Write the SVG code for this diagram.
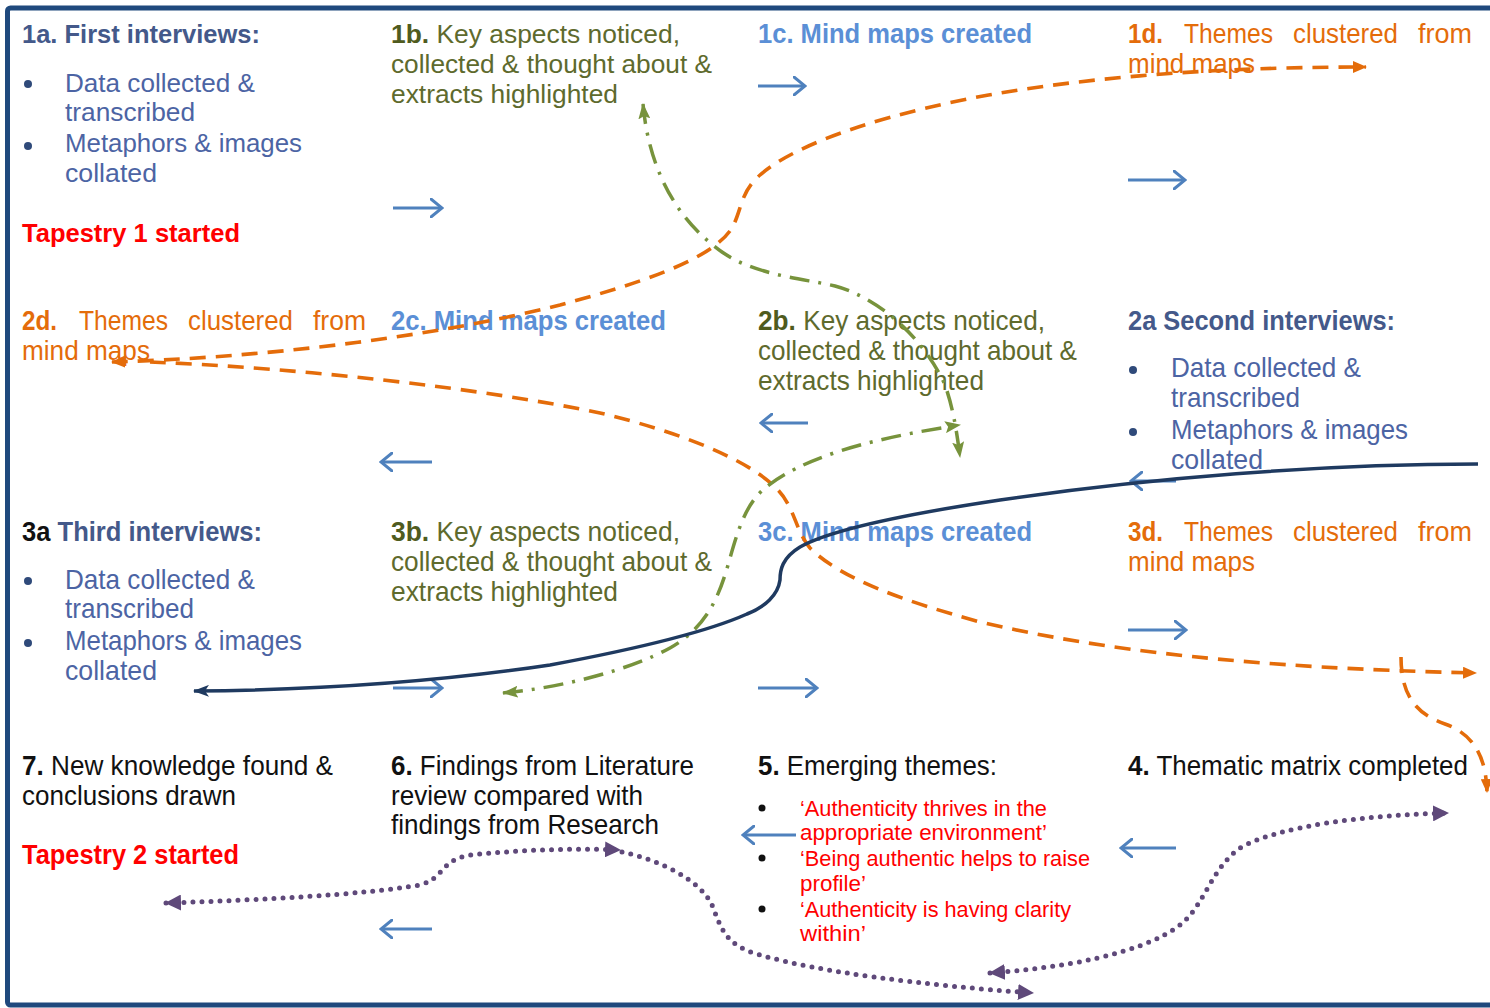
<svg xmlns="http://www.w3.org/2000/svg" width="1490" height="1008" viewBox="0 0 1490 1008">
  <defs>
    <style>
      text { font-family: "Liberation Sans", Arial, sans-serif; font-size: 26px; }
      .n { font-size: 28px; }
      .b { font-weight: bold; }
      .slate { fill: #44598A; }
      .body { fill: #4C64A4; }
      .olive { fill: #5E6A2D; }
      .oliveb { fill: #4F5B1E; font-weight: bold; }
      .sky { fill: #5B8FD6; font-weight: bold; }
      .orange { fill: #E46C0A; }
      .red { fill: #FF0000; }
      .blk { fill: #111111; }
      .quote { font-size: 22px; fill: #FF0000; }
      .dot { fill: #2F4A7A; }
      .dotk { fill: #111111; }
      .step { stroke: #4F81BD; stroke-width: 3; fill: none; marker-end: url(#chev); }
      .orng { stroke: #E46C0A; stroke-width: 3.6; fill: none; stroke-dasharray: 16 10; }
      .grn { stroke: #77933C; stroke-width: 3.5; fill: none; stroke-dasharray: 20 9 3 9; }
      .navy { stroke: #1F3A60; stroke-width: 3.5; fill: none; }
      .purp { stroke: #5F497A; stroke-width: 5; fill: none; stroke-dasharray: 0 9; stroke-linecap: round; }
    </style>
    <marker id="chev" viewBox="0 0 14 20" refX="12" refY="10" markerWidth="14" markerHeight="20" markerUnits="userSpaceOnUse" orient="auto">
      <path d="M1,1 L12,10 L1,19" fill="none" stroke="#4F81BD" stroke-width="3" stroke-linecap="round"/>
    </marker>
    <marker id="arrO" viewBox="0 0 14 12" refX="13" refY="6" markerWidth="14" markerHeight="12" markerUnits="userSpaceOnUse" orient="auto-start-reverse">
      <path d="M0,0 L14,6 L0,12 z" fill="#E46C0A"/>
    </marker>
    <marker id="arrG" viewBox="0 0 16 12" refX="15" refY="6" markerWidth="16" markerHeight="12" markerUnits="userSpaceOnUse" orient="auto-start-reverse">
      <path d="M0,0 L16,6 L0,12 L3,6 z" fill="#77933C"/>
    </marker>
    <marker id="arrN" viewBox="0 0 16 12" refX="15" refY="6" markerWidth="16" markerHeight="12" markerUnits="userSpaceOnUse" orient="auto-start-reverse">
      <path d="M0,0 L16,6 L0,12 L4,6 z" fill="#1F3A60"/>
    </marker>
    <marker id="arrP" viewBox="0 0 16 16" refX="15" refY="8" markerWidth="16" markerHeight="16" markerUnits="userSpaceOnUse" orient="auto-start-reverse">
      <path d="M0,0 L16,8 L0,16 z" fill="#5F497A"/>
    </marker>
  </defs>

  <rect x="0" y="0" width="1490" height="1008" fill="#FFFFFF"/>
  <!-- outer frame, open on the right -->
  <rect id="frame" x="7.5" y="8" width="1500" height="997" rx="3" fill="none" stroke="#1F497D" stroke-width="5"/>

  <!-- row 1 -->
  <g id="n1a">
    <text x="22" y="43" class="b slate" textLength="238" lengthAdjust="spacingAndGlyphs">1a. First interviews:</text>
    <circle cx="28" cy="84" r="4" class="dot"/>
    <circle cx="28" cy="146" r="4" class="dot"/>
    <text x="65" y="92" class="body" textLength="190" lengthAdjust="spacingAndGlyphs">Data collected &amp;</text>
    <text x="65" y="121" class="body" textLength="130" lengthAdjust="spacingAndGlyphs">transcribed</text>
    <text x="65" y="152" class="body" textLength="237" lengthAdjust="spacingAndGlyphs">Metaphors &amp; images</text>
    <text x="65" y="182" class="body" textLength="92" lengthAdjust="spacingAndGlyphs">collated</text>
    <text x="22" y="242" class="b red" textLength="218" lengthAdjust="spacingAndGlyphs">Tapestry 1 started</text>
  </g>
  <g id="n1b">
    <text x="391" y="43" class="olive" textLength="289" lengthAdjust="spacingAndGlyphs"><tspan class="oliveb">1b.</tspan> Key aspects noticed,</text>
    <text x="391" y="73" class="olive" textLength="321" lengthAdjust="spacingAndGlyphs">collected &amp; thought about &amp;</text>
    <text x="391" y="103" class="olive" textLength="227" lengthAdjust="spacingAndGlyphs">extracts highlighted</text>
  </g>
  <g id="n1c">
    <text x="758" y="43" class="n sky" textLength="274" lengthAdjust="spacingAndGlyphs">1c. Mind maps created</text>
  </g>
  <g id="n1d">
    <text x="1128" y="43" class="n b orange" textLength="35" lengthAdjust="spacingAndGlyphs">1d.</text>
    <text x="1184" y="43" class="n orange" textLength="89" lengthAdjust="spacingAndGlyphs">Themes</text>
    <text x="1293" y="43" class="n orange" textLength="105" lengthAdjust="spacingAndGlyphs">clustered</text>
    <text x="1418" y="43" class="n orange" textLength="54" lengthAdjust="spacingAndGlyphs">from</text>
    <text x="1128" y="73" class="n orange" textLength="127" lengthAdjust="spacingAndGlyphs">mind maps</text>
  </g>

  <!-- row 2 -->
  <g id="n2d">
    <text x="22" y="330" class="n b orange" textLength="35" lengthAdjust="spacingAndGlyphs">2d.</text>
    <text x="79" y="330" class="n orange" textLength="89" lengthAdjust="spacingAndGlyphs">Themes</text>
    <text x="188" y="330" class="n orange" textLength="105" lengthAdjust="spacingAndGlyphs">clustered</text>
    <text x="313" y="330" class="n orange" textLength="53" lengthAdjust="spacingAndGlyphs">from</text>
    <text x="22" y="360" class="n orange" textLength="128" lengthAdjust="spacingAndGlyphs">mind maps</text>
  </g>
  <g id="n2c">
    <text x="391" y="330" class="n sky" textLength="275" lengthAdjust="spacingAndGlyphs">2c. Mind maps created</text>
  </g>
  <g id="n2b">
    <text x="758" y="330" class="n olive" textLength="287" lengthAdjust="spacingAndGlyphs"><tspan class="oliveb">2b.</tspan> Key aspects noticed,</text>
    <text x="758" y="360" class="n olive" textLength="319" lengthAdjust="spacingAndGlyphs">collected &amp; thought about &amp;</text>
    <text x="758" y="390" class="n olive" textLength="226" lengthAdjust="spacingAndGlyphs">extracts highlighted</text>
  </g>
  <g id="n2a">
    <text x="1128" y="330" class="n b slate" textLength="267" lengthAdjust="spacingAndGlyphs">2a Second interviews:</text>
    <circle cx="1133" cy="370" r="4" class="dot"/>
    <circle cx="1133" cy="432" r="4" class="dot"/>
    <text x="1171" y="377" class="n body" textLength="190" lengthAdjust="spacingAndGlyphs">Data collected &amp;</text>
    <text x="1171" y="407" class="n body" textLength="129" lengthAdjust="spacingAndGlyphs">transcribed</text>
    <text x="1171" y="439" class="n body" textLength="237" lengthAdjust="spacingAndGlyphs">Metaphors &amp; images</text>
    <text x="1171" y="469" class="n body" textLength="92" lengthAdjust="spacingAndGlyphs">collated</text>
  </g>

  <!-- row 3 -->
  <g id="n3a">
    <text x="22" y="541" class="n b slate" textLength="240" lengthAdjust="spacingAndGlyphs"><tspan class="blk">3a</tspan> Third interviews:</text>
    <circle cx="28" cy="581" r="4" class="dot"/>
    <circle cx="28" cy="643" r="4" class="dot"/>
    <text x="65" y="589" class="n body" textLength="190" lengthAdjust="spacingAndGlyphs">Data collected &amp;</text>
    <text x="65" y="618" class="n body" textLength="129" lengthAdjust="spacingAndGlyphs">transcribed</text>
    <text x="65" y="650" class="n body" textLength="237" lengthAdjust="spacingAndGlyphs">Metaphors &amp; images</text>
    <text x="65" y="680" class="n body" textLength="92" lengthAdjust="spacingAndGlyphs">collated</text>
  </g>
  <g id="n3b">
    <text x="391" y="541" class="n olive" textLength="289" lengthAdjust="spacingAndGlyphs"><tspan class="oliveb">3b.</tspan> Key aspects noticed,</text>
    <text x="391" y="571" class="n olive" textLength="321" lengthAdjust="spacingAndGlyphs">collected &amp; thought about &amp;</text>
    <text x="391" y="601" class="n olive" textLength="227" lengthAdjust="spacingAndGlyphs">extracts highlighted</text>
  </g>
  <g id="n3c">
    <text x="758" y="541" class="n sky" textLength="274" lengthAdjust="spacingAndGlyphs">3c. Mind maps created</text>
  </g>
  <g id="n3d">
    <text x="1128" y="541" class="n b orange" textLength="35" lengthAdjust="spacingAndGlyphs">3d.</text>
    <text x="1184" y="541" class="n orange" textLength="89" lengthAdjust="spacingAndGlyphs">Themes</text>
    <text x="1293" y="541" class="n orange" textLength="105" lengthAdjust="spacingAndGlyphs">clustered</text>
    <text x="1418" y="541" class="n orange" textLength="54" lengthAdjust="spacingAndGlyphs">from</text>
    <text x="1128" y="571" class="n orange" textLength="127" lengthAdjust="spacingAndGlyphs">mind maps</text>
  </g>

  <!-- row 4 -->
  <g id="n7">
    <text x="22" y="775" class="n blk" textLength="311" lengthAdjust="spacingAndGlyphs"><tspan class="b">7.</tspan> New knowledge found &amp;</text>
    <text x="22" y="805" class="n blk" textLength="214" lengthAdjust="spacingAndGlyphs">conclusions drawn</text>
    <text x="22" y="864" class="n b red" textLength="217" lengthAdjust="spacingAndGlyphs">Tapestry 2 started</text>
  </g>
  <g id="n6">
    <text x="391" y="775" class="n blk" textLength="303" lengthAdjust="spacingAndGlyphs"><tspan class="b">6.</tspan> Findings from Literature</text>
    <text x="391" y="805" class="n blk" textLength="252" lengthAdjust="spacingAndGlyphs">review compared with</text>
    <text x="391" y="834" class="n blk" textLength="268" lengthAdjust="spacingAndGlyphs">findings from Research</text>
  </g>
  <g id="n5">
    <text x="758" y="775" class="n blk" textLength="239" lengthAdjust="spacingAndGlyphs"><tspan class="b">5.</tspan> Emerging themes:</text>
    <circle cx="762" cy="808" r="3.5" class="dotk"/>
    <circle cx="762" cy="858" r="3.5" class="dotk"/>
    <circle cx="762" cy="909" r="3.5" class="dotk"/>
    <text x="800" y="816" class="quote" textLength="247" lengthAdjust="spacingAndGlyphs">‘Authenticity thrives in the</text>
    <text x="800" y="840" class="quote" textLength="247" lengthAdjust="spacingAndGlyphs">appropriate  environment’</text>
    <text x="800" y="866" class="quote" textLength="290" lengthAdjust="spacingAndGlyphs">‘Being authentic helps to raise</text>
    <text x="800" y="891" class="quote" textLength="66" lengthAdjust="spacingAndGlyphs">profile’</text>
    <text x="800" y="917" class="quote" textLength="271" lengthAdjust="spacingAndGlyphs">‘Authenticity is having clarity</text>
    <text x="800" y="941" class="quote" textLength="66" lengthAdjust="spacingAndGlyphs">within’</text>
  </g>
  <g id="n4">
    <text x="1128" y="775" class="n blk" textLength="340" lengthAdjust="spacingAndGlyphs"><tspan class="b">4.</tspan> Thematic matrix completed</text>
  </g>

  <g id="connectors">
    <!-- short step arrows between cells -->
    <path class="step" d="M393,208 H442"/>
    <path class="step" d="M758,86 H805"/>
    <path class="step" d="M1128,180 H1185"/>
    <path class="step" d="M432,462 H381"/>
    <path class="step" d="M808,423 H761"/>
    <path class="step" d="M1176,481 H1131"/>
    <path class="step" d="M393,688 H442"/>
    <path class="step" d="M758,688 H817"/>
    <path class="step" d="M1128,630 H1186"/>
    <path class="step" d="M1176,848 H1121"/>
    <path class="step" d="M796,835 H743"/>
    <path class="step" d="M432,929 H381"/>

    <!-- orange dashed theme paths -->
    <path class="orng" marker-start="url(#arrO)" marker-end="url(#arrO)" d="M112,362 C250,358 420,340 560,305 C660,278 715,255 732,228 C742,210 740,192 760,175 C800,140 900,110 1000,93 C1120,73 1250,67 1366,67"/>
    <path class="orng" marker-end="url(#arrO)" d="M150,362 C300,368 480,388 600,413 C680,432 750,460 778,490 C795,508 795,530 810,548 C840,578 900,600 980,622 C1100,650 1250,668 1476,673"/>
    <path class="orng" marker-end="url(#arrO)" d="M1401,657 C1401,700 1420,715 1445,724 C1470,733 1486,752 1487,792"/>

    <!-- green dash-dot paths -->
    <path class="grn" marker-start="url(#arrG)" marker-end="url(#arrG)" d="M643,104 C648,160 670,215 722,252 C755,275 800,278 835,286 C880,298 925,340 945,385 C952,405 956,425 960,457"/>
    <path class="grn" marker-start="url(#arrG)" marker-end="url(#arrG)" d="M503,693 C560,688 630,670 670,648 C705,628 718,600 728,565 C738,530 745,505 765,488 C800,460 860,440 960,425"/>

    <!-- navy solid path -->
    <path class="navy" marker-end="url(#arrN)" d="M1478,464 C1320,464 1150,478 1000,500 C900,515 830,530 800,547 C782,558 780,570 780,580 C778,595 765,607 747,614 C700,635 620,652 550,665 C450,680 330,690 194,691"/>

    <!-- purple dotted paths -->
    <path class="purp" marker-start="url(#arrP)" marker-end="url(#arrP)" d="M166,903 C260,900 360,895 420,885 C445,878 440,860 470,855 C520,850 570,848 620,850"/>
    <path class="purp" marker-end="url(#arrP)" d="M622,852 C660,860 700,880 712,905 C722,930 725,945 760,955 C820,972 920,985 1033,993"/>
    <path class="purp" marker-start="url(#arrP)" marker-end="url(#arrP)" d="M990,973 C1060,968 1140,955 1180,925 C1205,905 1210,870 1240,848 C1280,825 1370,815 1448,813"/>
  </g>
</svg>
